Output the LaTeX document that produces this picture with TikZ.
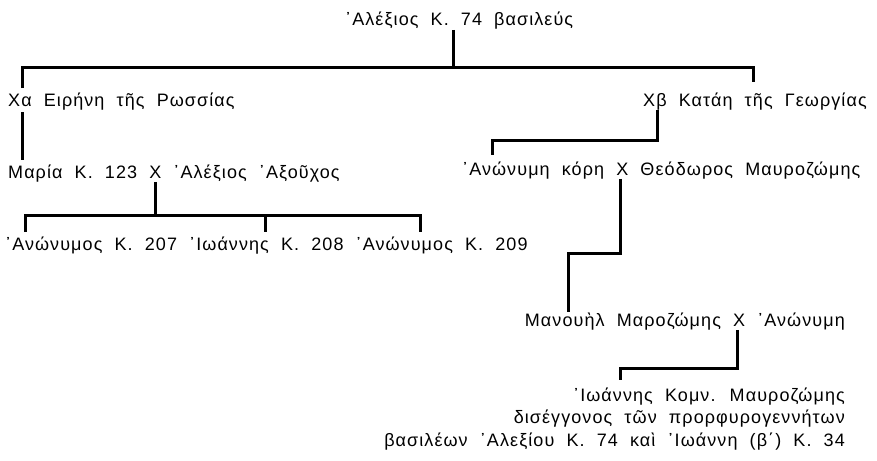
\documentclass[tikz,border=0pt]{standalone}
\usepackage{fontspec}
\setmainfont{Liberation Sans}[LetterSpace=6,WordSpace=2]
\begin{document}
\begin{tikzpicture}[x=1pt,y=-1pt,
  txt/.style={anchor=base west,inner sep=0pt,font=\fontsize{18}{20}\selectfont},
  rtxt/.style={txt,anchor=base east},
  ln/.style={line width=3pt,line cap=butt,line join=miter}]
\useasboundingbox (0,0) rectangle (877,460);
% texts
\node[txt] (alex) at (345,26) {᾽Αλέξιος Κ. 74 βασιλεύς};
\node[txt] (eir) at (8,106) {Χα Ειρήνη τῆς Ρωσσίας};
\node[txt] (kat) at (643,106) {Χβ Κατάη τῆς Γεωργίας};
\node[txt] (mar) at (8,178) {Μαρία Κ. 123 Χ ᾽Αλέξιος ᾽Αξοῦχος};
\node[txt] (kor) at (462,175) {᾽Ανώνυμη κόρη Χ Θεόδωρος Μαυροζώμης};
\node[txt] (ch) at (5,250) {᾽Ανώνυμος Κ. 207 ᾽Ιωάννης Κ. 208 ᾽Ανώνυμος Κ. 209};
\node[rtxt] (man) at (845,326) {Μανουὴλ Μαροζώμης Χ ᾽Ανώνυμη};
\node[rtxt] (io1) at (845,401) {᾽Ιωάννης Κομν. Μαυροζώμης};
\node[rtxt] (io2) at (845,423) {δισέγγονος τῶν προρφυρογεννήτων};
\node[rtxt] (io3) at (845,446) {βασιλέων ᾽Αλεξίου Κ. 74 καὶ ᾽Ιωάννη (β΄) Κ. 34};
% connector coordinates
\coordinate (c1) at (453,67);
\coordinate (c2) at (155,215);
\coordinate (c3) at (657,140);
\coordinate (c4) at (620,253);
\coordinate (c5) at (568,253);
\coordinate (c6) at (737,368);
% connectors
\draw[ln] (alex.south -| c1) -- (c1);
\draw[ln] (22,88) |- (753,67) -- (753,82);
\draw[ln] (22,112) -- (22,160);
\draw[ln] (mar.south -| c2) -- (c2);
\draw[ln] (25,232) |- (420,215) -- (420,232);
\draw[ln] (265,215) -- (265,232);
\draw[ln] (kat.south -| c3) -- (c3) -| (492,155);
\draw[ln] (kor.south -| c4) -- (c4) -- (c5) -- (man.north -| c5);
\draw[ln] (man.south -| c6) -- (c6) -| (620,380);
\end{tikzpicture}
\end{document}
